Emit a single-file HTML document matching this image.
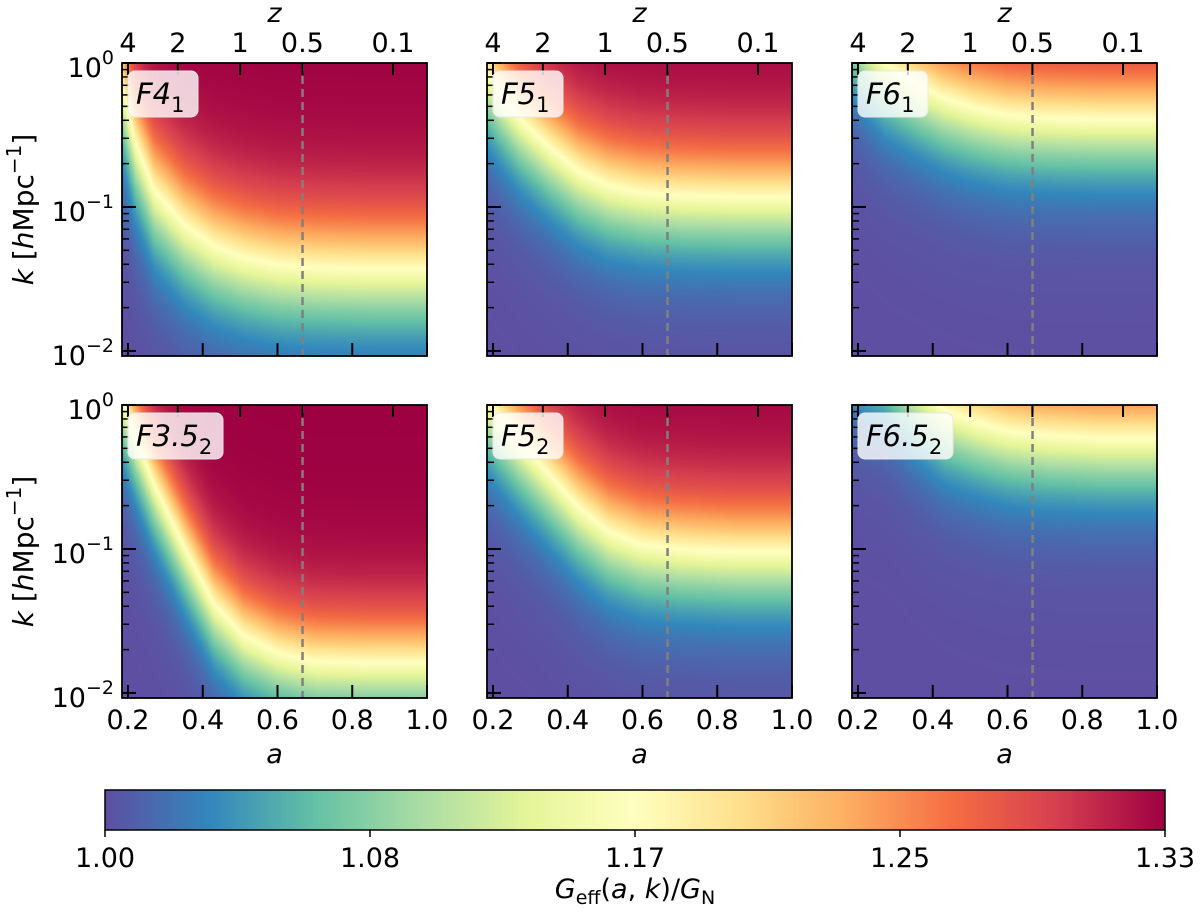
<!DOCTYPE html>
<html><head><meta charset="utf-8">
<style>
html,body{margin:0;padding:0;background:#fff;}
#wrap{position:relative;width:1200px;height:913px;overflow:hidden;font-family:"DejaVu Sans","Liberation Sans",sans-serif;}
canvas{position:absolute;}
svg{position:absolute;left:0;top:0;}
</style></head>
<body>
<div id="wrap">
<svg id="svg" width="1200" height="913"></svg>
</div>
<script>
// ---- data ----
const aGrid = [0.184, 0.22, 0.27, 0.35, 0.43, 0.51, 0.6, 0.7, 0.85, 1.0];
const midF4_1   = [-0.15, -0.55, -0.88, -1.12, -1.27, -1.35, -1.40, -1.42, -1.43, -1.43];
const midF5_1   = [-0.07, -0.21, -0.38, -0.58, -0.75, -0.85, -0.90, -0.92, -0.93, -0.93];
const midF6_1   = [0.29, 0.15, 0.0, -0.13, -0.24, -0.31, -0.36, -0.38, -0.39, -0.39];
const midF35_2  = [0.05, -0.22, -0.55, -0.98, -1.38, -1.60, -1.72, -1.78, -1.79, -1.79];
const midF5_2   = [0.03, -0.09, -0.25, -0.48, -0.71, -0.88, -0.97, -1.0, -1.02, -1.02];
const midF65_2  = [0.55, 0.45, 0.38, 0.15, -0.03, -0.11, -0.18, -0.21, -0.23, -0.23];
const widths = [0.26, 0.24, 0.24, 0.22, 0.24, 0.24];
const labels = [["F4","1"],["F5","1"],["F6","1"],["F3.5","2"],["F5","2"],["F6.5","2"]];
const xTicks = [0.2, 0.4, 0.6, 0.8, 1.0];
const xTickLabels = ["0.2","0.4","0.6","0.8","1.0"];
const zTicks = [4, 2, 1, 0.5, 0.1];
const zTickLabels = ["4","2","1","0.5","0.1"];
const cbTicks = [1.0, 1.0825, 1.165, 1.2475, 1.33];
const cbTickLabels = ["1.00","1.08","1.17","1.25","1.33"];
const Gmin = 1.0, Gmax = 1.33;
const aMin = 0.184, aMax = 1.0, logkMin = -2.035, logkMax = 0;
const aDash = 0.667;

const mids = [midF4_1, midF5_1, midF6_1, midF35_2, midF5_2, midF65_2];
const spectralR = ["#5e4fa2","#3288bd","#66c2a5","#abdda4","#e6f598","#ffffbf","#fee08b","#fdae61","#f46d43","#d53e4f","#9e0142"];

// ---- layout ----
const colX = [122, 487, 852], rowY = [63, 405];
const PW = 305, PH = 293;
const svg = document.getElementById('svg');
const wrap = document.getElementById('wrap');
const NS = "http://www.w3.org/2000/svg";
function hex(c){return [parseInt(c.substr(1,2),16),parseInt(c.substr(3,2),16),parseInt(c.substr(5,2),16)];}
const cmap = spectralR.map(hex);
function color(g){
  let t = (g-Gmin)/(Gmax-Gmin); t=Math.max(0,Math.min(1,t));
  const p=t*(cmap.length-1); const i=Math.min(cmap.length-2,Math.floor(p)); const f=p-i;
  return [0,1,2].map(j=>Math.round(cmap[i][j]+(cmap[i+1][j]-cmap[i][j])*f));
}
function interp(xs, ys, x){
  if(x<=xs[0]) return ys[0];
  for(let i=1;i<xs.length;i++){ if(x<=xs[i]){const f=(x-xs[i-1])/(xs[i]-xs[i-1]);return ys[i-1]+f*(ys[i]-ys[i-1]);} }
  return ys[ys.length-1];
}
function xScale(ox,a){return ox+(a-aMin)/(aMax-aMin)*PW;}
function yScale(oy,lk){return oy+(logkMax-lk)/(logkMax-logkMin)*PH;}
function el(tag, attrs, parent){const e=document.createElementNS(NS,tag);for(const k in attrs)e.setAttribute(k,attrs[k]);(parent||svg).appendChild(e);return e;}

for(let p=0;p<6;p++){
  const ox = colX[p%3], oy = rowY[Math.floor(p/3)];
  const cv = document.createElement('canvas');
  
  
  cv.width=PW; cv.height=PH; cv.style.left=ox+'px'; cv.style.top=oy+'px';
  wrap.insertBefore(cv, svg);
  const ctx=cv.getContext('2d'); const img=ctx.createImageData(PW,PH);
  for(let px=0;px<PW;px++){
    const a=aMin+(px+0.5)/PW*(aMax-aMin);
    const m=interp(aGrid,mids[p],a);
    for(let py=0;py<PH;py++){
      const lk=logkMax-(py+0.5)/PH*(logkMax-logkMin);
      const g=Gmin+(Gmax-Gmin)/(1+Math.exp(-(lk-m)/widths[p]));
      const c=color(g); const idx=(py*PW+px)*4;
      img.data[idx]=c[0];img.data[idx+1]=c[1];img.data[idx+2]=c[2];img.data[idx+3]=255;
    }
  }
  ctx.putImageData(img,0,0);

  const g = el('g',{});
  
  
  const dx=xScale(ox,aDash);
  const dl = el('line',{x1:dx,x2:dx,y1:oy,y2:oy+PH,stroke:'#808080','stroke-width':2.5,'stroke-dasharray':'8,5'},g);
  
  
  xTicks.forEach((t,i)=>{
    const x=xScale(ox,t);
    el('line',{x1:x,x2:x,y1:oy+PH,y2:oy+PH-13,stroke:'#000','stroke-width':2},g);
    if(p>=3){
      const tx=el('text',{x:x,y:oy+PH+31,'font-size':27,'text-anchor':'middle'},g);
      tx.textContent=xTickLabels[i];
      
      
    }
  });
  zTicks.forEach((z,i)=>{
    const x=xScale(ox,1/(1+z));
    el('line',{x1:x,x2:x,y1:oy,y2:oy+12,stroke:'#000','stroke-width':2},g);
    if(p<3){
      const tx=el('text',{x:x,y:oy-11,'font-size':27,'text-anchor':'middle'},g);
      tx.textContent=zTickLabels[i];
      
      
    }
  });
  for(let d=-2;d<=0;d++){
    const y=yScale(oy,d);
    if(y<=oy+PH+0.5) el('line',{x1:ox,x2:ox+14,y1:y,y2:y,stroke:'#000','stroke-width':2},g);
    if(d<0) for(let m=2;m<=9;m++){const yy=yScale(oy,d+Math.log10(m));el('line',{x1:ox,x2:ox+7,y1:yy,y2:yy,stroke:'#000','stroke-width':1.5},g);}
    if(p%3===0){
      const tx=el('text',{x:ox-8,y:y+14,'font-size':27,'text-anchor':'end'},g);
      
      
      const t1=el('tspan',{},tx); t1.textContent='10';
      const t2=el('tspan',{dy:-13,'font-size':19},tx); t2.textContent=(d===0?'0':'\u2212'+(-d));
    }
  }
  el('rect',{x:ox,y:oy,width:PW,height:PH,fill:'none',stroke:'#000','stroke-width':1.8},g);
  const bw = labels[p][0].length>2?95:70;
  const box=el('rect',{x:ox+6,y:oy+8,width:bw,height:46,rx:7,fill:'#fff','fill-opacity':0.8,stroke:'#e8e8e8','stroke-width':1},g);
  
  
  const lt=el('text',{x:ox+14,y:oy+41,'font-size':29,'font-style':'italic'},g);
  
  
  const l1=el('tspan',{},lt); l1.textContent=labels[p][0];
  const l2=el('tspan',{dy:8,'font-size':21,'font-style':'normal'},lt); l2.textContent=labels[p][1];
  if(p<3){
    const zt=el('text',{x:ox+PW/2,y:22,'font-size':27,'font-style':'italic','text-anchor':'middle'},g);
    zt.textContent='z';
    
    
  } else {
    const at=el('text',{x:ox+PW/2,y:763,'font-size':27,'font-style':'italic','text-anchor':'middle'},g);
    at.textContent='a';
    
    
  }
  if(p%3===0){
    const cy=oy+PH/2;
    const yt=el('text',{x:0,y:0,'font-size':28,'text-anchor':'middle',transform:'translate(33,'+cy+') rotate(-90)'},g);
    
    
    const a1=el('tspan',{'font-style':'italic'},yt); a1.textContent='k';
    const a2=el('tspan',{},yt); a2.textContent=' [';
    const a3=el('tspan',{'font-style':'italic'},yt); a3.textContent='h';
    const a4=el('tspan',{},yt); a4.textContent='Mpc';
    const a5=el('tspan',{dy:-12,'font-size':20},yt); a5.textContent='\u22121';
    const a6=el('tspan',{dy:12},yt); a6.textContent=']';
  }
}

// ---- colorbar ----
const cbX=105, cbY=790, cbW=1060, cbH=40;
const cb=document.createElement('canvas');


cb.width=cbW; cb.height=cbH; cb.style.left=cbX+'px'; cb.style.top=cbY+'px';
wrap.insertBefore(cb, svg);
const cctx=cb.getContext('2d');
for(let i=0;i<cbW;i++){const c=color(Gmin+(i+0.5)/cbW*(Gmax-Gmin));cctx.fillStyle='rgb('+c.join(',')+')';cctx.fillRect(i,0,1,cbH);}
el('rect',{x:cbX,y:cbY,width:cbW,height:cbH,fill:'none',stroke:'#000','stroke-width':1.5});
cbTicks.forEach((t,i)=>{
  const x=cbX+(t-Gmin)/(Gmax-Gmin)*cbW;
  el('line',{x1:x,x2:x,y1:cbY+cbH,y2:cbY+cbH+7,stroke:'#000','stroke-width':1.5});
  const tx=el('text',{x:x,y:867,'font-size':27,'text-anchor':'middle'});
  tx.textContent=cbTickLabels[i];
  
  
});
const cl=el('text',{x:635,y:898,'font-size':27,'text-anchor':'middle'});


(function(){
  const s1=el('tspan',{'font-style':'italic'},cl); s1.textContent='G';
  const s2=el('tspan',{dy:6,'font-size':19},cl); s2.textContent='eff';
  const s3=el('tspan',{dy:-6},cl); s3.textContent='(';
  const s4=el('tspan',{'font-style':'italic'},cl); s4.textContent='a';
  const s5=el('tspan',{},cl); s5.textContent=', ';
  const s6=el('tspan',{'font-style':'italic'},cl); s6.textContent='k';
  const s7=el('tspan',{},cl); s7.textContent=')/';
  const s8=el('tspan',{'font-style':'italic'},cl); s8.textContent='G';
  const s9=el('tspan',{dy:6,'font-size':19},cl); s9.textContent='N';
})();
</script>
</body></html>
